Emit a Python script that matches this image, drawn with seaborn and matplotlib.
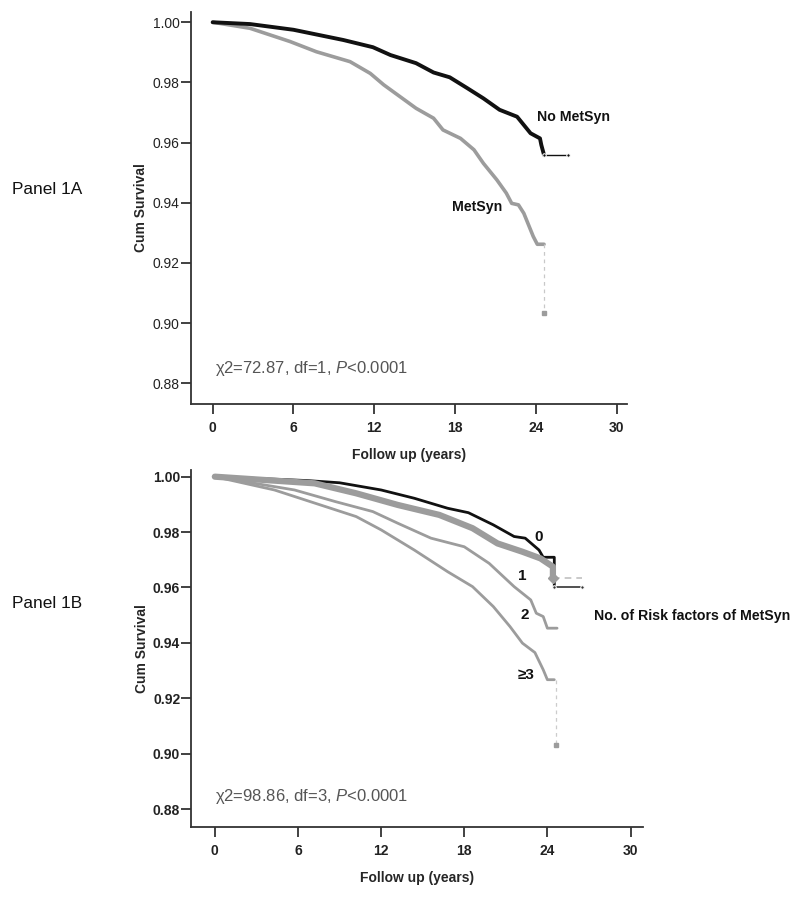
import matplotlib
matplotlib.use('Agg')
import matplotlib.pyplot as plt
import seaborn as sns
import pandas as pd

sns.set_style('ticks')
plt.rcParams['font.family'] = ['Liberation Sans', 'DejaVu Sans']
plt.rcParams['mathtext.fontset'] = 'custom'
plt.rcParams['mathtext.rm'] = 'Liberation Sans'
plt.rcParams['mathtext.it'] = 'Liberation Sans:italic'

# Panel 1A: Kaplan-Meier curves
a_no_t = [0, 2.77, 6.0, 9.7, 11.9, 13.2, 15.1, 16.4, 17.6, 18.9, 20.1, 21.3, 22.6, 23.6, 24.3, 24.4, 24.6]
a_no_s = [1.0, 0.9994, 0.9975, 0.9941, 0.9917, 0.9891, 0.9864, 0.9833, 0.9817, 0.9781, 0.9747,
          0.9709, 0.9686, 0.9631, 0.9614, 0.9592, 0.9559]
a_no_tail_t = [24.6, 26.4]
a_no_tail_s = [0.9559, 0.9559]

a_ms_t = [0, 2.77, 5.74, 7.7, 10.2, 11.7, 12.7, 13.9, 15.1, 16.4, 17.1, 18.4, 19.4, 20.1, 21.1,
          21.8, 22.2, 22.7, 23.1, 23.6, 23.8, 24.1, 24.6]
a_ms_s = [1.0, 0.998, 0.9936, 0.9902, 0.9869, 0.983, 0.9792, 0.9753, 0.9714, 0.9681, 0.9642,
          0.9614, 0.9576, 0.9531, 0.9476, 0.9432, 0.9398, 0.9393, 0.9365, 0.931, 0.9288, 0.9262, 0.9262]
a_ms_tail_t = [24.6, 24.6]
a_ms_tail_s = [0.9262, 0.9033]

# Panel 1B: number of MetSyn risk factors
b0_t = [0, 6.65, 9.0, 12.0, 14.4, 16.8, 18.3, 20.1, 21.6, 22.4, 23.4, 23.7, 24.5, 24.5]
b0_s = [1.0, 0.9986, 0.9978, 0.9952, 0.9922, 0.9886, 0.987, 0.9826, 0.9784, 0.9778, 0.9735,
        0.9709, 0.9709, 0.9603]
b0_tail_t = [24.5, 26.5]
b0_tail_s = [0.9603, 0.9603]

b1_t = [0, 7.2, 10.2, 13.2, 16.2, 18.6, 20.4, 22.2, 23.5, 24.4, 24.4]
b1_s = [1.0, 0.9976, 0.994, 0.9898, 0.9862, 0.9814, 0.9759, 0.9729, 0.9705, 0.9675, 0.9633]
b1_tail_t = [24.4, 26.5]
b1_tail_s = [0.9633, 0.9633]

b2_t = [0, 5.75, 8.7, 11.4, 13.2, 15.6, 18.0, 19.8, 21.6, 22.8, 23.2, 23.7, 24.0, 24.7]
b2_s = [1.0, 0.9952, 0.991, 0.9874, 0.9832, 0.9778, 0.9747, 0.9687, 0.9603, 0.9555, 0.9507,
        0.9495, 0.9453, 0.9453]

b3_t = [0, 4.3, 7.25, 10.2, 12.0, 14.4, 16.8, 18.6, 20.1, 21.3, 22.2, 23.1, 23.7, 24.0, 24.5]
b3_s = [1.0, 0.9952, 0.9904, 0.9856, 0.9808, 0.9735, 0.9657, 0.9603, 0.9531, 0.9459, 0.9399,
        0.9365, 0.9303, 0.9267, 0.9267]
b3_tail_t = [24.6, 24.6]
b3_tail_s = [0.9267, 0.9033]

x_ticks = [0, 6, 12, 18, 24, 30]
y_ticks = [0.88, 0.90, 0.92, 0.94, 0.96, 0.98, 1.00]

GRAY = '#9c9c9c'
BLACK = '#111111'


def curve(ax, t, s, **kw):
    d = pd.DataFrame({'t': t, 's': s})
    sns.lineplot(data=d, x='t', y='s', ax=ax, sort=False, estimator=None, **kw)


def style_axes(ax, ybold, xlabelpad):
    ax.set_xticks(x_ticks)
    ax.set_yticks(y_ticks)
    ax.set_yticklabels([f'{v:.2f}' for v in y_ticks], fontweight='bold' if ybold else 'normal')
    ax.set_xticklabels([str(v) for v in x_ticks], fontweight='bold')
    ax.tick_params(direction='out', length=7, width=1.3, color='#333333',
                   labelsize=10, labelcolor='#222222')
    ax.tick_params(axis='x', pad=5)
    ax.tick_params(axis='y', pad=1)
    for sp in ['left', 'bottom']:
        ax.spines[sp].set_linewidth(1.3)
        ax.spines[sp].set_color('#333333')
    sns.despine(ax=ax)
    ax.set_xlabel('Follow up (years)', fontsize=10, fontweight='bold', labelpad=xlabelpad)
    ax.set_ylabel('Cum Survival', fontsize=10, fontweight='bold', labelpad=3)


fig = plt.figure(figsize=(8, 9.02), dpi=100)
axA = fig.add_axes([0.2384, 0.5521, 0.545, 0.4349])
axB = fig.add_axes([0.2391, 0.0831, 0.5641, 0.3958])

# Panel A
curve(axA, a_ms_t, a_ms_s, color=GRAY, linewidth=2.6)
curve(axA, a_no_t, a_no_s, color=BLACK, linewidth=2.8)
curve(axA, a_no_tail_t, a_no_tail_s, color=BLACK, linewidth=1.0, marker='o', markersize=2.5)
curve(axA, a_ms_tail_t, a_ms_tail_s, color='#c8c8c8', linewidth=0.9, linestyle=(0, (3, 3)))
axA.plot(a_ms_tail_t[-1:], a_ms_tail_s[-1:], 's', color=GRAY, markersize=3)
axA.set_xlim(-1.63, 30.74)
axA.set_ylim(0.8731, 1.0035)
style_axes(axA, ybold=False, xlabelpad=9.5)
axA.text(24.06, 0.9686, 'No MetSyn', fontweight='bold', fontsize=10.2,
         va='center', ha='left', color=BLACK)
axA.text(17.75, 0.9387, 'MetSyn', fontweight='bold', fontsize=10.2,
         va='center', ha='left', color=BLACK)
axA.text(0.17, 0.885, r'χ2=72.87, df=1, $\it{P}$<0.0001', fontsize=12,
         va='center', ha='left', color='#555555')

# Panel B
curve(axB, b3_t, b3_s, color=GRAY, linewidth=2.0)
curve(axB, b2_t, b2_s, color=GRAY, linewidth=2.0)
curve(axB, b0_t, b0_s, color=BLACK, linewidth=2.0)
curve(axB, b1_t, b1_s, color=GRAY, linewidth=4.5)
curve(axB, b0_tail_t, b0_tail_s, color='#333333', linewidth=1.2, marker='o', markersize=2.5)
curve(axB, b1_tail_t, b1_tail_s, color='#c0c0c0', linewidth=1.2, linestyle=(0, (4, 3)))
axB.plot(b1_tail_t[:1], b1_tail_s[:1], 'D', color=GRAY, markersize=5)
curve(axB, b3_tail_t, b3_tail_s, color='#cccccc', linewidth=0.9, linestyle=(0, (3, 3)))
axB.plot(b3_tail_t[-1:], b3_tail_s[-1:], 's', color=GRAY, markersize=3)
axB.set_xlim(-1.7, 30.87)
axB.set_ylim(0.8735, 1.0024)
style_axes(axB, ybold=True, xlabelpad=9.5)

for lab, tx, sy in [('0', 23.35, 0.9784), ('1', 22.2, 0.9642), ('2', 22.4, 0.950), ('≥3', 22.45, 0.9285)]:
    axB.text(tx, sy, lab, fontweight='bold', fontsize=11,
             va='center', ha='center', color=BLACK)
axB.text(27.4, 0.9497, 'No. of Risk factors of MetSyn', fontweight='bold',
         fontsize=10.2, va='center', ha='left', color=BLACK)
axB.text(0.0, 0.8846, r'χ2=98.86, df=3, $\it{P}$<0.0001', fontsize=12,
         va='center', ha='left', color='#555555')

fig.text(12 / 800, 1 - 189 / 902, 'Panel 1A', fontsize=12.4, va='center', ha='left', color='#111111')
fig.text(12 / 800, 1 - 604 / 902, 'Panel 1B', fontsize=12.4, va='center', ha='left', color='#111111')

fig.savefig('out.png', dpi=100, facecolor='white')
